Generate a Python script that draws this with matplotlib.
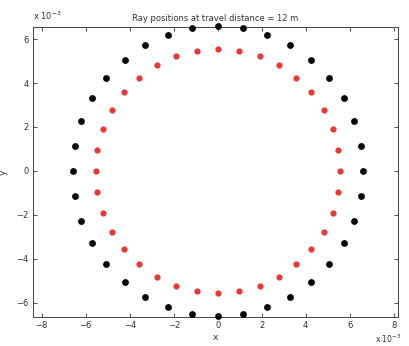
import matplotlib
matplotlib.use('Agg')
import matplotlib.pyplot as plt

# ray positions (units of 1e-3)
black_x = [6.60, 6.50, 6.20, 5.72, 5.06, 4.24, 3.30, 2.26, 1.15, 0.00, -1.15, -2.26,
           -3.30, -4.24, -5.06, -5.72, -6.20, -6.50, -6.60, -6.50, -6.20, -5.72, -5.06, -4.24,
           -3.30, -2.26, -1.15, 0.00, 1.15, 2.26, 3.30, 4.24, 5.06, 5.72, 6.20, 6.50]
black_y = [0.00, 1.15, 2.26, 3.30, 4.24, 5.06, 5.72, 6.20, 6.50, 6.60, 6.50, 6.20,
           5.72, 5.06, 4.24, 3.30, 2.26, 1.15, 0.00, -1.15, -2.26, -3.30, -4.24, -5.06,
           -5.72, -6.20, -6.50, -6.60, -6.50, -6.20, -5.72, -5.06, -4.24, -3.30, -2.26, -1.15]
red_x = [5.55, 5.47, 5.22, 4.81, 4.25, 3.57, 2.78, 1.90, 0.96, 0.00, -0.96, -1.90,
         -2.78, -3.57, -4.25, -4.81, -5.22, -5.47, -5.55, -5.47, -5.22, -4.81, -4.25, -3.57,
         -2.78, -1.90, -0.96, 0.00, 0.96, 1.90, 2.78, 3.57, 4.25, 4.81, 5.22, 5.47]
red_y = [0.00, 0.96, 1.90, 2.78, 3.57, 4.25, 4.81, 5.22, 5.47, 5.55, 5.47, 5.22,
         4.81, 4.25, 3.57, 2.78, 1.90, 0.96, 0.00, -0.96, -1.90, -2.78, -3.57, -4.25,
         -4.81, -5.22, -5.47, -5.55, -5.47, -5.22, -4.81, -4.25, -3.57, -2.78, -1.90, -0.96]
xticks = [-8, -6, -4, -2, 0, 2, 4, 6, 8]
yticks = [-6, -4, -2, 0, 2, 4, 6]

tc = '#333333'
fig = plt.figure(figsize=(4.1, 3.46), dpi=100)
ax = fig.add_axes([0.0805, 0.0838, 0.8905, 0.8382])
ax.scatter(black_x, black_y, s=15, color='black', zorder=3, clip_on=False)
ax.scatter(red_x, red_y, s=12, color='#e23a36', zorder=3, clip_on=False)

ax.set_xlim(-8.4, 8.2)
ax.set_ylim(-6.65, 6.55)
ax.set_xticks(xticks)
ax.set_yticks(yticks)
ax.tick_params(direction='in', length=3, width=0.6, labelsize=6, colors=tc,
               top=True, right=True, pad=3)
for s in ax.spines.values():
    s.set_linewidth(0.7)
    s.set_color('#444444')

ax.set_title('Ray positions at travel distance = 12 m', fontsize=6, color=tc, pad=4)
ax.set_xlabel('x', fontsize=6.5, color=tc, labelpad=2)
ax.set_ylabel('y', fontsize=6.5, color=tc, labelpad=6, rotation=90)
fig.text(0.080, 0.935, r'x 10$^{-3}$', fontsize=6, color=tc, ha='left', va='bottom')
fig.text(0.978, 0.004, r'x 10$^{-3}$', fontsize=5.5, color=tc, ha='right', va='bottom')

fig.savefig('out.png', dpi=100)
